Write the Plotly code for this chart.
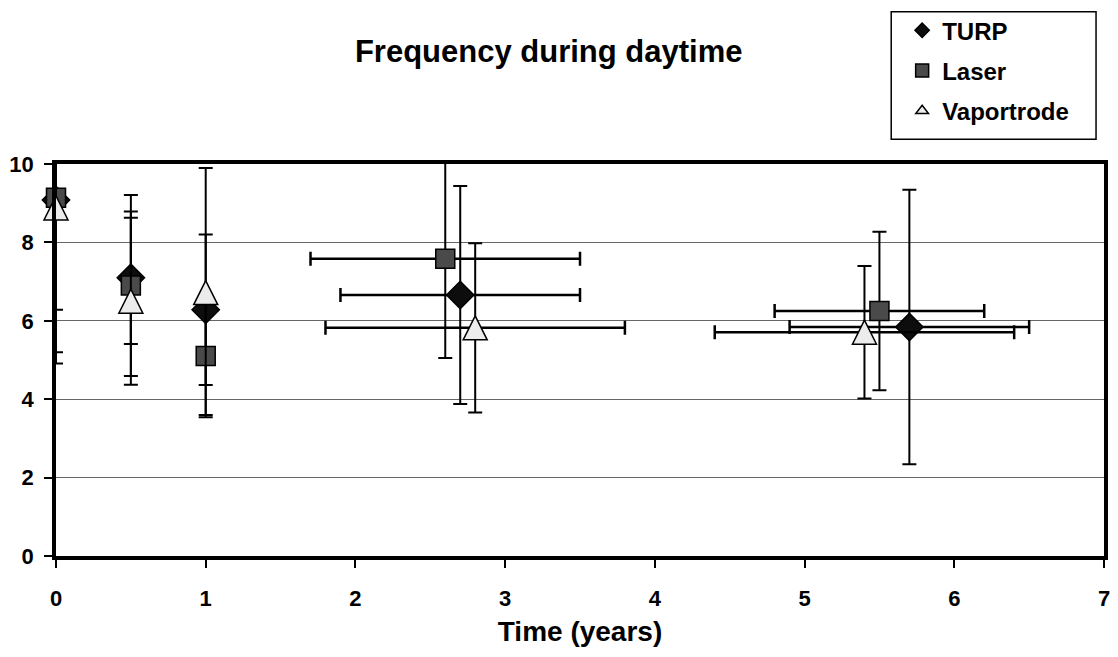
import plotly.graph_objects as go

# Time points (years) for each treatment group
turp_t = [0, 0.5, 1, 2.7, 5.7]
laser_t = [0, 0.5, 1, 2.6, 5.5]
vapor_t = [0, 0.5, 1, 2.8, 5.4]

# Mean daytime frequency
turp_freq = [9.08, 7.10, 6.28, 6.66, 5.84]
laser_freq = [9.14, 6.90, 5.10, 7.58, 6.25]
vapor_freq = [8.88, 6.50, 6.72, 5.82, 5.71]

# Spread in frequency (symmetric)
turp_freq_err = [4.17, 1.69, 1.92, 2.78, 3.50]
laser_freq_err = [3.94, 2.31, 1.50, 2.53, 2.02]
vapor_freq_err = [2.60, 2.13, 3.18, 2.16, 1.69]

# Spread in follow-up time (symmetric)
turp_t_err = [0, 0, 0, 0.8, 0.8]
laser_t_err = [0, 0, 0, 0.9, 0.7]
vapor_t_err = [0, 0, 0, 1.0, 1.0]

FONT = "Liberation Sans, Arial, sans-serif"

TURP_MARKER = dict(color="#0d0d0d", line=dict(color="black", width=1.5))
LASER_MARKER = dict(color="#4a4a4a", line=dict(color="black", width=1.5))
VAPOR_MARKER = dict(color="#ececec", line=dict(color="black", width=1.5))


def err(vals, thick):
    return dict(type="data", array=vals, symmetric=True,
                color="black", thickness=thick, width=7)


fig = go.Figure()

# Data series (markers left unclipped so the points at t=0 show in full)
fig.add_trace(go.Scatter(
    x=turp_t, y=turp_freq, name="TURP", mode="markers", showlegend=False,
    marker=dict(symbol="diamond", size=21, **TURP_MARKER),
    error_y=err(turp_freq_err, 2), error_x=err(turp_t_err, 2.5),
    cliponaxis=False,
))
fig.add_trace(go.Scatter(
    x=laser_t, y=laser_freq, name="Laser", mode="markers", showlegend=False,
    marker=dict(symbol="square", size=19, **LASER_MARKER),
    error_y=err(laser_freq_err, 2), error_x=err(laser_t_err, 2.5),
    cliponaxis=False,
))
# upright triangle centred on the point: a flipped arrow shifted by half its size
fig.add_trace(go.Scatter(
    x=vapor_t, y=vapor_freq, name="Vaportrode", mode="markers", showlegend=False,
    marker=dict(symbol="arrow-down", angle=180, standoff=12, size=24, **VAPOR_MARKER),
    error_y=err(vapor_freq_err, 2), error_x=err(vapor_t_err, 2.5),
    cliponaxis=False,
))

# Legend entries
for name, sym, sz, mk, grp in [("TURP", "diamond", 11, TURP_MARKER, "a"),
                               ("Laser", "square", 13, LASER_MARKER, "b"),
                               ("Vaportrode", "triangle-up", 11, VAPOR_MARKER, "c")]:
    fig.add_trace(go.Scatter(
        x=[None], y=[None], name=name, mode="markers", legendgroup=grp,
        marker=dict(symbol=sym, size=sz, **mk),
    ))

axis_common = dict(
    ticks="outside", ticklen=8, tickwidth=1.5, tickcolor="black",
    showline=True, linewidth=3.5, linecolor="black", mirror=True,
    zeroline=False,
    tickfont=dict(family=FONT, size=22, color="black", weight="bold"),
)

# Plot area spans 56..1110 px horizontally and 161..556 px vertically
PX0, PW, PY0, PH = 56, 1054, 556, 395


def px_x(p):
    return (p - PX0) / PW


def px_y(p):
    return (PY0 - p) / PH


fig.update_layout(
    width=1118, height=657,
    margin=dict(l=56, r=8, t=161, b=101),
    paper_bgcolor="white", plot_bgcolor="white",
    font=dict(family=FONT, color="black"),
    title=dict(text="Frequency during daytime", x=0.4908, xref="container",
               xanchor="center", y=0.922, yref="container", yanchor="middle",
               font=dict(family=FONT, size=31, color="black", weight="bold")),
    xaxis=dict(range=[0, 7], dtick=1, tick0=0, showgrid=False,
               ticklabelstandoff=12,
               title=dict(text="Time (years)", standoff=12,
                          font=dict(family=FONT, size=28, color="black", weight="bold")),
               **axis_common),
    yaxis=dict(range=[0, 10], dtick=2, tick0=0, showgrid=True,
               gridcolor="#666666", gridwidth=1, ticklabelstandoff=6,
               **axis_common),
    legend=dict(x=px_x(907), y=px_y(4), xanchor="left", yanchor="top",
                borderwidth=0, bgcolor="rgba(0,0,0,0)",
                font=dict(family=FONT, size=24, color="black", weight="bold"),
                itemsizing="trace", tracegroupgap=6),
    shapes=[dict(type="rect", xref="paper", yref="paper",
                 x0=px_x(896), x1=px_x(1102), y0=px_y(136), y1=px_y(7.5),
                 line=dict(color="black", width=1.5), fillcolor="rgba(0,0,0,0)",
                 layer="above")],
    showlegend=True,
)

fig.write_html("out.html")
